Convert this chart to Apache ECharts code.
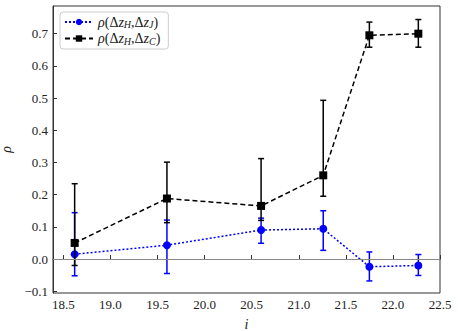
<!DOCTYPE html>
<html>
<head>
<meta charset="utf-8">
<script src="https://cdn.jsdelivr.net/npm/echarts@6/dist/echarts.min.js"></script>
<style>
  html, body { margin: 0; padding: 0; background: #fff; }
  #chart { width: 458px; height: 331px; }
</style>
</head>
<body>
<div id="chart"></div>
<script>
var xVals = [18.62, 19.60, 20.60, 21.26, 21.75, 22.27];
var rhoJ = [0.015, 0.043, 0.090, 0.094, -0.024, -0.020];
var rhoJLow = [-0.052, -0.045, 0.049, 0.027, -0.068, -0.051];
var rhoJHigh = [0.144, 0.121, 0.127, 0.150, 0.022, 0.014];
var rhoC = [0.050, 0.188, 0.165, 0.260, 0.695, 0.700];
var rhoCLow = [-0.020, 0.113, 0.120, 0.195, 0.658, 0.658];
var rhoCHigh = [0.234, 0.301, 0.312, 0.493, 0.736, 0.744];
var xTicks = [18.5, 19.0, 19.5, 20.0, 20.5, 21.0, 21.5, 22.0, 22.5];
var yTicks = [-0.1, 0.0, 0.1, 0.2, 0.3, 0.4, 0.5, 0.6, 0.7];

var serif = "'Liberation Serif', 'DejaVu Serif', serif";
var ink = '#222';

function pairs(ys) {
  return xVals.map(function(x, i) { return [x, ys[i]]; });
}
function bars(lo, hi) {
  return xVals.map(function(x, i) { return [x, lo[i], hi[i]]; });
}
function fmt(v) {
  return v.toFixed(1).replace('-', '\u2212');
}
function errorBars(color) {
  return function(params, api) {
    var lo = api.coord([api.value(0), api.value(1)]);
    var hi = api.coord([api.value(0), api.value(2)]);
    var cap = 3;
    var st = { stroke: color, lineWidth: 1.5 };
    return {
      type: 'group',
      children: [
        { type: 'line', shape: { x1: lo[0], y1: lo[1], x2: hi[0], y2: hi[1] }, style: st },
        { type: 'line', shape: { x1: lo[0] - cap, y1: lo[1], x2: lo[0] + cap, y2: lo[1] }, style: st },
        { type: 'line', shape: { x1: hi[0] - cap, y1: hi[1], x2: hi[0] + cap, y2: hi[1] }, style: st }
      ]
    };
  };
}

var rich = {
  n: { fontFamily: serif, fontSize: 14, color: ink },
  i: { fontFamily: serif, fontSize: 14, fontStyle: 'italic', color: ink },
  s: { fontFamily: serif, fontSize: 10, fontStyle: 'italic', color: ink, verticalAlign: 'bottom', padding: [5, 0, 0, 0] }
};

var chart = echarts.init(document.getElementById('chart'), null, { renderer: 'svg' });
chart.setOption({
  animation: false,
  grid: {
    left: 53, right: 18, top: 6, bottom: 38,
    containLabel: false,
    outerBoundsMode: 'none',
    show: true, borderColor: '#333', borderWidth: 1
  },
  legend: {
    data: ['rhoJ', 'rhoC'],
    orient: 'vertical',
    left: 60, top: 12,
    padding: [3, 8, 3, 4],
    itemWidth: 28, itemHeight: 8,
    itemGap: 2,
    backgroundColor: 'rgba(255,255,255,0.8)',
    borderColor: '#ccc', borderWidth: 1, borderRadius: 3,
    formatter: function(name) {
      var sub = name === 'rhoJ' ? 'J' : 'C';
      return '{i|\u03c1}{n|(\u0394}{i|z}{s|H}{n|,\u0394}{i|z}{s|' + sub + '}{n|)}';
    },
    textStyle: { rich: rich }
  },
  xAxis: {
    type: 'value',
    min: 18.39, max: 22.5,
    name: 'i',
    nameLocation: 'middle',
    nameGap: 24,
    nameTextStyle: { fontFamily: serif, fontSize: 14, fontStyle: 'italic', color: ink },
    axisLine: { show: true, lineStyle: { color: '#333' } },
    axisTick: { show: true, inside: true, length: 4, customValues: xTicks, lineStyle: { color: '#333' } },
    axisLabel: { customValues: xTicks, formatter: fmt, margin: 5, fontFamily: serif, fontSize: 13, color: ink },
    splitLine: { show: false }
  },
  yAxis: {
    type: 'value',
    min: -0.1055, max: 0.786,
    name: '\u03c1',
    nameLocation: 'middle',
    nameGap: 38,
    nameTextStyle: { fontFamily: serif, fontSize: 14, fontStyle: 'italic', color: ink },
    axisLine: { show: true, lineStyle: { color: '#333' } },
    axisTick: { show: true, inside: true, length: 4, customValues: yTicks, lineStyle: { color: '#333' } },
    axisLabel: { customValues: yTicks, formatter: fmt, margin: 5, fontFamily: serif, fontSize: 13, color: ink },
    splitLine: { show: false }
  },
  series: [
    {
      name: 'errJ',
      type: 'custom',
      renderItem: errorBars('#0000ff'),
      data: bars(rhoJLow, rhoJHigh),
      encode: { x: 0, y: [1, 2] },
      z: 2
    },
    {
      name: 'rhoJ',
      type: 'line',
      data: pairs(rhoJ),
      symbol: 'circle',
      symbolSize: 8,
      itemStyle: { color: '#0000ff' },
      lineStyle: { color: '#0000ff', type: [2, 2], width: 1.5 },
      z: 3,
      markLine: {
        silent: true,
        symbol: 'none',
        label: { show: false },
        lineStyle: { color: '#888', type: 'solid', width: 1.2 },
        data: [{ yAxis: 0 }]
      }
    },
    {
      name: 'errC',
      type: 'custom',
      renderItem: errorBars('#000'),
      data: bars(rhoCLow, rhoCHigh),
      encode: { x: 0, y: [1, 2] },
      z: 4
    },
    {
      name: 'rhoC',
      type: 'line',
      data: pairs(rhoC),
      symbol: 'rect',
      symbolSize: 8,
      itemStyle: { color: '#000' },
      lineStyle: { color: '#000', type: [5, 3], width: 1.5 },
      z: 5
    }
  ]
});
</script>
</body>
</html>
